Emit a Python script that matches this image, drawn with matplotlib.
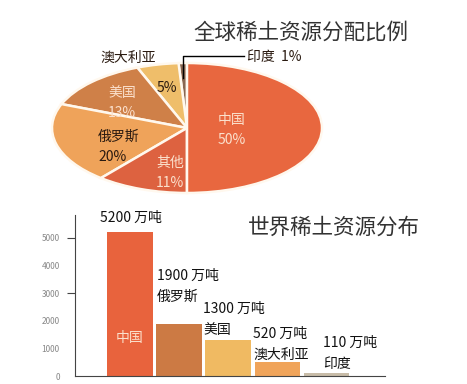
import numpy as np
import matplotlib
matplotlib.use('Agg')
import matplotlib.pyplot as plt

plt.rcParams['font.family'] = ['Noto Sans CJK SC', 'DejaVu Sans']

# 全球稀土资源分配比例 (逆时针从顶部开始)
pie_labels = ['印度', '澳大利亚', '美国', '俄罗斯', '其他', '中国']
pie_pcts = [1, 5, 13, 20, 11, 50]
pie_colors = ['#8A6650', '#EFBE6A', '#CF8048', '#EFA35A', '#DD6240', '#E8673F']

# 世界稀土资源分布 (万吨)
bar_countries = ['中国', '俄罗斯', '美国', '澳大利亚', '印度']
bar_values = [5200, 1900, 1300, 520, 110]
bar_colors = ['#E8633D', '#CC7A44', '#F0BA62', '#F0A45A', '#C8BCA8']
ytick_vals = [0, 1000, 2000, 3000, 4000, 5000]

W, H = 467, 384
fig = plt.figure(figsize=(W / 100, H / 100), dpi=100)

def px(x, y):
    return x / W, 1 - y / H

# ---- pie (squashed ellipse) ----
axp = fig.add_axes([52 / W, 1 - 193 / H, 270 / W, 130 / H])
axp.pie(pie_pcts, colors=pie_colors, startangle=90, counterclock=True,
        wedgeprops=dict(edgecolor='#FFF8EE', linewidth=1.8), frame=False)
axp.set_aspect('auto')
axp.set_xlim(-1, 1)
axp.set_ylim(-1, 1)
axp.axis('off')

light = '#FBE0CC'
dark = '#2A1A10'
fs = 10
fig.text(*px(232, 130), '中国\n50%', color=light, fontsize=fs, ha='center', va='center', linespacing=1.5)
fig.text(*px(122, 103), '美国\n13%', color=light, fontsize=fs, ha='center', va='center', linespacing=1.5)
fig.text(*px(98, 147), '俄罗斯\n20%', color=dark, fontsize=fs, ha='left', va='center', linespacing=1.5)
fig.text(*px(170, 173), '其他\n11%', color=light, fontsize=fs, ha='center', va='center', linespacing=1.5)
fig.text(*px(167, 88), '5%', color=dark, fontsize=fs, ha='center', va='center')
fig.text(*px(128, 58), '澳大利亚', color=dark, fontsize=fs, ha='center', va='center')
fig.text(*px(247, 57), '印度  1%', color=dark, fontsize=fs, ha='left', va='center')
fig.add_artist(plt.Line2D([183 / W, 183 / W, 244 / W], [1 - 78 / H, 1 - 56 / H, 1 - 56 / H],
                          color='black', lw=1, transform=fig.transFigure))

fig.text(*px(301, 33), '全球稀土资源分配比例', color='#333333', fontsize=15.5, ha='center', va='center')

# ---- bars ----
axb = fig.add_axes([75 / W, 1 - 376 / H, 310 / W, 161 / H])
x = np.arange(len(bar_values))
axb.bar(x, bar_values, width=0.92, color=bar_colors)
axb.set_xlim(-1.12, 5.2)
axb.set_ylim(0, 5830)
for s in ['top', 'right']:
    axb.spines[s].set_visible(False)
axb.spines['left'].set_color('#444444')
axb.spines['bottom'].set_color('#444444')
axb.set_xticks([])
axb.set_yticks(ytick_vals)
axb.set_yticklabels([str(v) for v in ytick_vals], fontsize=6, color='#888888')
axb.tick_params(axis='y', length=6, color='#444444', pad=5)
for v, t in zip(ytick_vals, axb.yaxis.get_major_ticks()):
    if v not in (3000, 5000):
        t.tick1line.set_visible(False)

val_pos = [(100, 218), (157, 276), (203, 309), (253, 334), (323, 343)]
for (tx, ty), v, name, i in zip(val_pos, bar_values, bar_countries, range(5)):
    fig.text(*px(tx, ty), f'{v} 万吨', fontsize=10, color='#111111', ha='left', va='center')
    if i > 0:
        fig.text(*px(tx, ty + 21), name, fontsize=10, color='#111111', ha='left', va='center')
fig.text(*px(130, 338), bar_countries[0], fontsize=10, color=light, ha='center', va='center')

fig.text(*px(334, 228), '世界稀土资源分布', color='#333333', fontsize=15.5, ha='center', va='center')

fig.savefig('out.png', dpi=100, facecolor='white')
